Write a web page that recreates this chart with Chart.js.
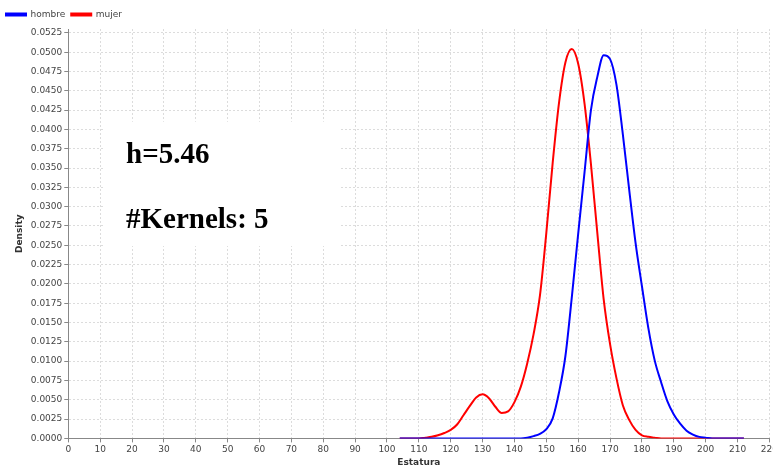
<!DOCTYPE html>
<html>
<head>
<meta charset="utf-8">
<script src="https://cdn.jsdelivr.net/npm/chart.js@4/dist/chart.umd.min.js"></script>
<style>
  html, body { margin: 0; padding: 0; background: #fff; overflow: hidden; }
  #wrap { width: 780px; height: 468px; }
</style>
</head>
<body>
<div id="wrap"><canvas id="chart" width="780" height="468"></canvas></div>
<script>
// Estatura (x) sampled every 2 units
const estatura = [104,106,108,110,112,114,116,118,120,122,124,126,128,130,132,134,136,138,140,142,
  144,146,148,150,152,154,156,158,160,162,164,166,168,170,172,174,176,178,180,182,184,186,188,190,
  192,194,196,198,200,202,204,206,208,210,212];

const hombre = [0,0,0,0,0,0,0,0,0,0,0,0,0,0,0,0,0,0,0,0,
  0.0001,0.0003,0.0006,0.0012,0.0026,0.0060,0.0107,0.0183,0.0265,0.0345,0.0425,0.0468,0.0496,0.0491,0.0458,0.0394,0.0322,0.0253,0.0197,0.0143,0.0101,0.0073,0.0048,0.0031,
  0.0019,0.0010,0.0005,0.0002,0.0001,0,0,0,0,0,0];

const mujer = [0,0,0,0,0.0001,0.0002,0.0004,0.0007,0.0011,0.0018,0.0030,0.0042,0.0053,0.0057,0.0052,0.0041,0.0033,0.0035,0.0047,0.0067,
  0.0097,0.0135,0.0185,0.0266,0.0357,0.0435,0.0487,0.0504,0.0485,0.0433,0.0355,0.0266,0.0180,0.0122,0.0078,0.0043,0.0024,0.0011,0.0004,0.0002,0.0001,0,0,0,
  0,0,0,0,0,0,0,0,0,0,0];

const yTicks = [0,0.0025,0.005,0.0075,0.01,0.0125,0.015,0.0175,0.02,0.0225,0.025,0.0275,0.03,0.0325,
  0.035,0.0375,0.04,0.0425,0.045,0.0475,0.05,0.0525];

const noteLines = ['h=5.46', '#Kernels: 5'];

const pts = ys => estatura.map((x, i) => ({ x: x, y: ys[i] }));

const notePlugin = {
  id: 'note',
  beforeDatasetsDraw(chart) {
    const { ctx, scales } = chart;
    const x0 = scales.x.getPixelForValue(11);
    const y0 = scales.y.getPixelForValue(0.041);
    const x1 = scales.x.getPixelForValue(85);
    const y1 = scales.y.getPixelForValue(0.0249);
    ctx.save();
    ctx.fillStyle = '#fff';
    ctx.fillRect(x0, y0, x1 - x0, y1 - y0);
    ctx.fillStyle = '#000';
    ctx.font = 'bold 29px "Liberation Serif", serif';
    ctx.textBaseline = 'alphabetic';
    ctx.fillText(noteLines[0], 126, 163);
    ctx.fillText(noteLines[1], 126, 228);
    ctx.restore();
  }
};

const tickFont = { family: '"DejaVu Sans", sans-serif', size: 9 };
const gridOpts = { color: '#dcdcdc', tickColor: '#888', tickBorderDash: [], tickLength: 4 };

new Chart(document.getElementById('chart'), {
  type: 'line',
  data: {
    datasets: [
      { label: 'hombre', data: pts(hombre), borderColor: '#0000ff', backgroundColor: '#0000ff',
        borderWidth: 2, pointRadius: 0, cubicInterpolationMode: 'monotone' },
      { label: 'mujer', data: pts(mujer), borderColor: '#ff0000', backgroundColor: '#ff0000',
        borderWidth: 2, pointRadius: 0, cubicInterpolationMode: 'monotone' }
    ]
  },
  options: {
    responsive: false,
    animation: false,
    layout: { padding: { left: 0, right: 0, top: 4, bottom: 0 } },
    plugins: {
      legend: {
        position: 'top',
        align: 'start',
        labels: {
          boxWidth: 20, boxHeight: 2, padding: 6, color: '#444',
          font: { family: '"DejaVu Sans", sans-serif', size: 9 }
        }
      },
      tooltip: { enabled: false }
    },
    scales: {
      x: {
        type: 'linear', min: 0, max: 220,
        ticks: { stepSize: 10, color: '#444', font: tickFont, maxRotation: 0, autoSkip: false, padding: 2 },
        grid: gridOpts,
        border: { color: '#888', width: 1, dash: [2, 2] },
        title: { display: true, text: 'Estatura', color: '#333',
          font: { family: '"DejaVu Sans", sans-serif', size: 9, weight: 'bold' }, padding: { top: 0, bottom: 0 } }
      },
      y: {
        min: 0, max: 0.053,
        afterBuildTicks: s => { s.ticks = yTicks.map(v => ({ value: v })); },
        ticks: { color: '#444', font: tickFont, padding: 2, callback: v => v.toFixed(4) },
        grid: gridOpts,
        border: { color: '#888', width: 1, dash: [2, 2] },
        title: { display: true, text: 'Density', color: '#333',
          font: { family: '"DejaVu Sans", sans-serif', size: 9, weight: 'bold' }, padding: { top: 14, bottom: 4 } }
      }
    }
  },
  plugins: [notePlugin]
});
</script>
</body>
</html>
